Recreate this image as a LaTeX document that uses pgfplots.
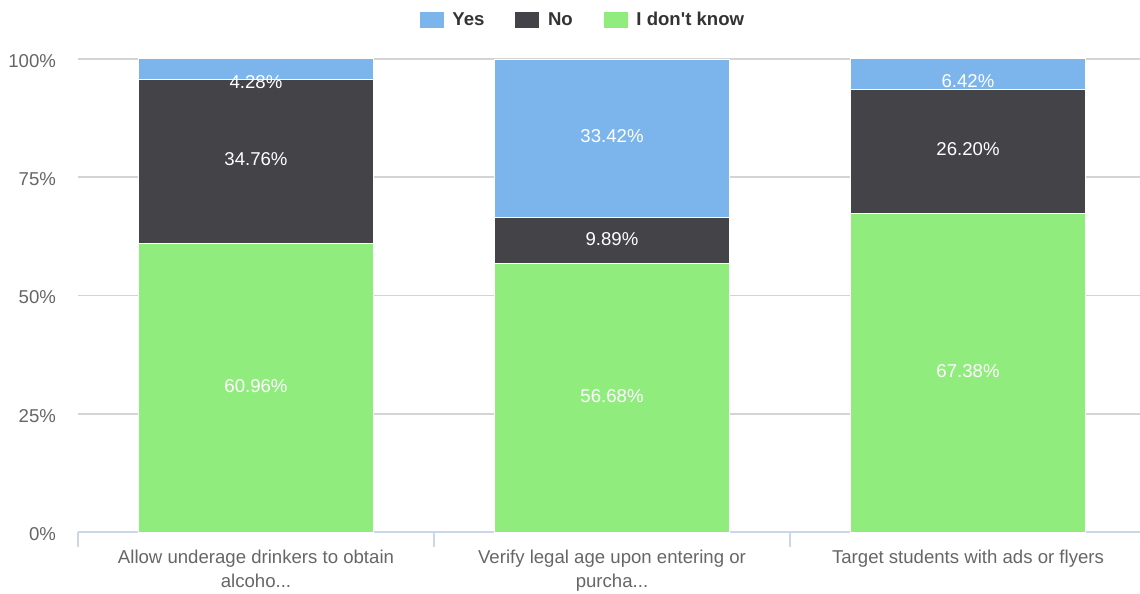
\documentclass[border=0pt]{standalone}
\usepackage{pgfplots}
\pgfplotsset{compat=1.18}
\usepackage{fontspec}
\setmainfont{Liberation Sans}
\definecolor{cYes}{HTML}{7CB5EC}
\definecolor{cNo}{HTML}{434348}
\definecolor{cIdk}{HTML}{90ED7D}
\definecolor{gridc}{HTML}{D4D4D4}
\definecolor{axc}{HTML}{CCD6EB}
\definecolor{lab}{HTML}{666666}
\definecolor{legt}{HTML}{333333}
\newcommand{\cf}{\fontsize{9.3}{12}\selectfont}
\newcommand{\labA}{Allow underage drinkers to obtain\\alcoho...}
\newcommand{\labB}{Verify legal age upon entering or\\purcha...}
\newcommand{\labC}{Target students with ads or flyers}
\begin{document}
\begin{tikzpicture}
\path[use as bounding box] (-39pt,-31pt) rectangle (531pt,266pt);
\begin{axis}[at={(0,0)}, anchor=south west, scale only axis,
  width=534pt, height=236.5pt,
  ybar stacked, bar width=117.5pt,
  xmin=-0.5, xmax=2.5, ymin=0, ymax=100,
  axis lines*=left,
  x axis line style={draw=axc, line width=0.9pt},
  y axis line style={draw=none},
  major tick length=0pt,
  xtick={0,1,2},
  xticklabels={\labA,\labB,\labC},
  xticklabel style={align=center, font=\cf, text=lab, yshift=-5.5pt},
  extra x ticks={-0.5,0.5,1.5,2.5}, extra x tick labels={},
  extra x tick style={tick align=outside, major tick length=7.5pt, tick style={draw=axc, line width=0.9pt}},
  ytick={0,25,50,75,100}, yticklabels={0\%,25\%,50\%,75\%,100\%},
  yticklabel style={font=\cf, text=lab, xshift=-7.5pt, yshift=-1pt},
  ymajorgrids, grid style={draw=gridc, line width=0.9pt},
  legend columns=-1, reverse legend,
  legend style={at={(0.4733,1.082)}, anchor=center, draw=none, fill=none,
    font=\cf\bfseries, text=legt,
    /tikz/every even column/.append style={column sep=13pt},
    /tikz/every odd column/.append style={column sep=1.8pt}},
  legend image code/.code={\fill[#1] (0pt,-4.25pt) rectangle (12.5pt,4.25pt);},
]
\addplot[fill=cIdk, draw=white, line width=0.5pt] coordinates {(0,60.96) (1,56.68) (2,67.38)};
\addlegendentry{I don\textquotesingle t know}
\addplot[fill=cNo, draw=white, line width=0.5pt] coordinates {(0,34.76) (1,9.89) (2,26.20)};
\addlegendentry{No}
\addplot[fill=cYes, draw=white, line width=0.5pt] coordinates {(0,4.28) (1,33.42) (2,6.42)};
\addlegendentry{Yes}
\end{axis}
\begin{axis}[at={(0,0)}, anchor=south west, scale only axis,
  width=534pt, height=236.5pt, hide axis,
  xmin=-0.5, xmax=2.5, ymin=0, ymax=100, clip=false]
\addplot[only marks, mark=none, nodes near coords, point meta=explicit symbolic,
  nodes near coords align={center},
  every node near coord/.append style={anchor=center, text=white, font=\cf}]
  coordinates {
  (0,30.9)[60.96\%] (0,78.8)[34.76\%] (0,95.2)[4.28\%]
  (1,28.8)[56.68\%] (1,62.0)[9.89\%] (1,83.7)[33.42\%]
  (2,34.1)[67.38\%] (2,80.9)[26.20\%] (2,95.4)[6.42\%]
  };
\end{axis}
\end{tikzpicture}
\end{document}
